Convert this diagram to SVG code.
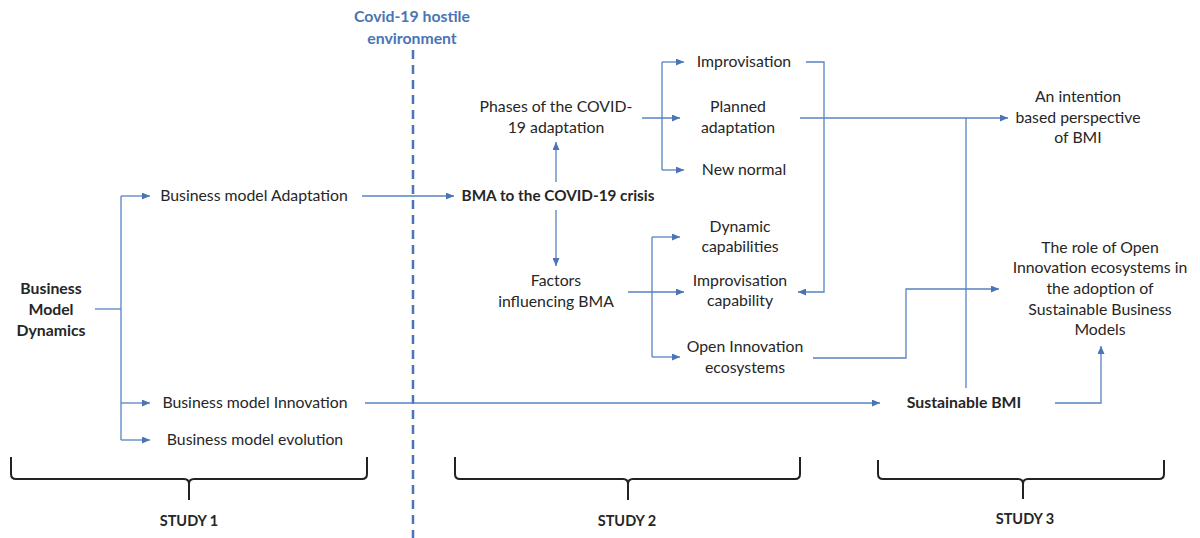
<svg xmlns="http://www.w3.org/2000/svg" width="1200" height="538" viewBox="0 0 1200 538">
  <style>
    .t { font-family: Lato, "Open Sans", "Liberation Sans", sans-serif; font-size: 15.8px; fill: #262626; text-anchor: middle; }
    .b { font-weight: bold; }
    .env { font-family: Lato, "Open Sans", "Liberation Sans", sans-serif; font-size: 15.8px; font-weight: bold; fill: #4a74b5; text-anchor: middle; }
    .study { font-family: Lato, "Open Sans", "Liberation Sans", sans-serif; font-size: 14.5px; font-weight: bold; fill: #262626; text-anchor: middle; }
    .c { fill: none; stroke: #5583c0; stroke-width: 1.3; }
    .a { marker-end: url(#arrow); }
    .brace { fill: none; stroke: #222; stroke-width: 2; }
  </style>
  <defs>
    <marker id="arrow" markerUnits="userSpaceOnUse" markerWidth="8" markerHeight="7" refX="8" refY="3.5" orient="auto">
      <path d="M0,0 L8,3.5 L0,7 z" fill="#4a74b5"/>
    </marker>
  </defs>
  <rect width="1200" height="538" fill="#fff"/>

  <!-- hostile environment divider -->
  <g id="environment">
    <text class="env" x="412" y="22">Covid-19 hostile</text>
    <text class="env" x="412" y="44">environment</text>
    <line x1="413" y1="50" x2="413" y2="538" stroke="#4a74b5" stroke-width="2.5" stroke-dasharray="9 6"/>
  </g>

  <!-- connectors -->
  <g id="connectors">
    <path class="c" d="M95,309 H121"/>
    <path class="c" d="M121,196 V440"/>
    <path class="c a" d="M121,196 H150"/>
    <path class="c a" d="M121,403 H150"/>
    <path class="c a" d="M121,440 H150"/>
    <path class="c a" d="M362,196 H454"/>
    <path class="c a" d="M365,403 H880"/>
    <path class="c a" d="M556,182 V142"/>
    <path class="c a" d="M556,210 V266"/>
    <path class="c a" d="M642,118 H680"/>
    <path class="c" d="M662,62 V170"/>
    <path class="c a" d="M662,62 H684"/>
    <path class="c a" d="M662,170 H684"/>
    <path class="c a" d="M806,62 H824 V292 H798"/>
    <path class="c a" d="M800,118 H1008"/>
    <path class="c" d="M966,118 V388"/>
    <path class="c a" d="M628,292 H684"/>
    <path class="c" d="M652,237 V357"/>
    <path class="c a" d="M652,237 H680"/>
    <path class="c a" d="M652,357 H680"/>
    <path class="c a" d="M813,358 H906 V289 H999"/>
    <path class="c a" d="M1055,403 H1101 V346"/>
  </g>

  <!-- study 1 -->
  <g id="bm-dynamics">
    <text class="t b" x="51" y="294">Business</text>
    <text class="t b" x="51" y="315">Model</text>
    <text class="t b" x="51" y="336">Dynamics</text>
  </g>
  <g id="bm-adaptation"><text class="t" x="254" y="201">Business model Adaptation</text></g>
  <g id="bm-innovation"><text class="t" x="255" y="408">Business model Innovation</text></g>
  <g id="bm-evolution"><text class="t" x="255" y="445">Business model evolution</text></g>

  <!-- study 2 -->
  <g id="bma-covid"><text class="t b" x="558" y="201" style="font-size:15.3px">BMA to the COVID-19 crisis</text></g>
  <g id="phases">
    <text class="t" x="556" y="112">Phases of the COVID-</text>
    <text class="t" x="556" y="133">19 adaptation</text>
  </g>
  <g id="improvisation"><text class="t" x="744" y="67">Improvisation</text></g>
  <g id="planned">
    <text class="t" x="738" y="112">Planned</text>
    <text class="t" x="738" y="133">adaptation</text>
  </g>
  <g id="new-normal"><text class="t" x="744" y="175">New normal</text></g>
  <g id="factors">
    <text class="t" x="556" y="286">Factors</text>
    <text class="t" x="556" y="307">influencing BMA</text>
  </g>
  <g id="dynamic-capabilities">
    <text class="t" x="740" y="232">Dynamic</text>
    <text class="t" x="740" y="252">capabilities</text>
  </g>
  <g id="improvisation-capability">
    <text class="t" x="740" y="286">Improvisation</text>
    <text class="t" x="740" y="306">capability</text>
  </g>
  <g id="open-innovation">
    <text class="t" x="745" y="352">Open Innovation</text>
    <text class="t" x="745" y="373">ecosystems</text>
  </g>

  <!-- study 3 -->
  <g id="sustainable-bmi"><text class="t b" x="964" y="408">Sustainable  BMI</text></g>
  <g id="intention">
    <text class="t" x="1078" y="102">An intention</text>
    <text class="t" x="1078" y="123">based perspective</text>
    <text class="t" x="1078" y="143">of BMI</text>
  </g>
  <g id="oi-role">
    <text class="t" x="1100" y="253">The role of Open</text>
    <text class="t" x="1100" y="273">Innovation ecosystems in</text>
    <text class="t" x="1100" y="294">the adoption of</text>
    <text class="t" x="1100" y="315">Sustainable Business</text>
    <text class="t" x="1100" y="335">Models</text>
  </g>

  <!-- study braces -->
  <g id="study1">
    <path class="brace" d="M11,457 V474 Q11,479 16,479 H184 Q189,479 189,484 V500 M189,484 Q189,479 194,479 H362 Q367,479 367,474 V457"/>
    <text class="study" x="189" y="526">STUDY 1</text>
  </g>
  <g id="study2">
    <path class="brace" d="M455,457 V474 Q455,479 460,479 H623 Q628,479 628,484 V500 M628,484 Q628,479 633,479 H795 Q800,479 800,474 V457"/>
    <text class="study" x="627" y="526">STUDY 2</text>
  </g>
  <g id="study3">
    <path class="brace" d="M878,460 V474 Q878,479 883,479 H1018 Q1023,479 1023,484 V499 M1023,484 Q1023,479 1028,479 H1159 Q1164,479 1164,474 V460"/>
    <text class="study" x="1025" y="524">STUDY 3</text>
  </g>
</svg>
